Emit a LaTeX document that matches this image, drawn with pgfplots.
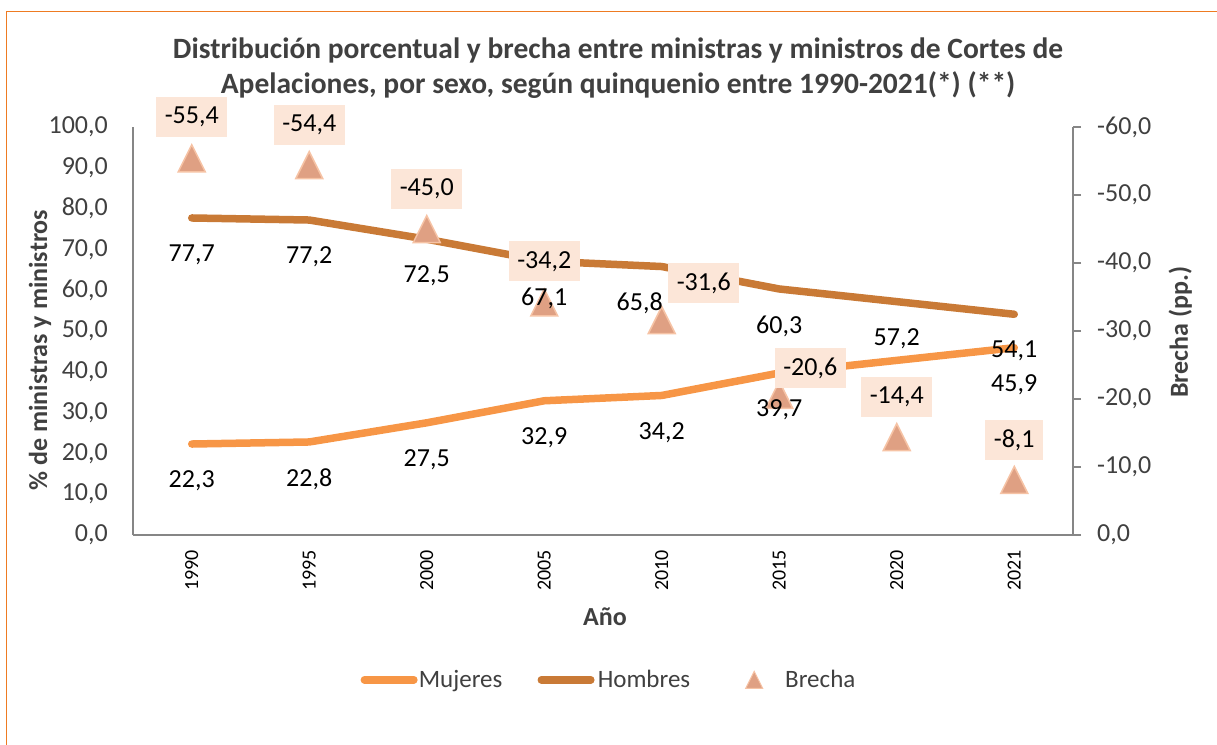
\documentclass[border=0pt]{standalone}
\usepackage{pgfplots}
\pgfplotsset{compat=1.18}
\usepackage{fontspec}
\setmainfont{Carlito}
\definecolor{muj}{HTML}{F79646}
\definecolor{hom}{HTML}{C97A36}
\definecolor{trifill}{HTML}{DFA083}
\definecolor{tridraw}{HTML}{F6C3A5}
\definecolor{boxc}{HTML}{FCE6D8}
\definecolor{axgray}{HTML}{868686}
\definecolor{txtgray}{HTML}{404040}
\definecolor{frameor}{HTML}{EE7B22}
\pgfdeclareplotmark{exceltri}{%
  \pgfpathmoveto{\pgfqpoint{0bp}{13.5bp}}%
  \pgfpathlineto{\pgfqpoint{13.5bp}{-13.5bp}}%
  \pgfpathlineto{\pgfqpoint{-13.5bp}{-13.5bp}}%
  \pgfpathclose
  \pgfusepathqfillstroke}
\newcommand{\numfmt}[1]{\pgfmathprintnumber[fixed,fixed zerofill,precision=1,use comma,assume math mode=true]{#1}}
\pgfplotsset{
  base/.style={
    at={(0,0)}, anchor=south west,
    width=940bp, height=408bp, scale only axis,
    xmin=-0.5, xmax=7.5, clip=false},
  linelabels/.style={
    nodes near coords={\numfmt{\pgfplotspointmeta}},
    point meta=y,
    visualization depends on={\thisrow{dx}\as\dx},
    every node near coord/.append style={anchor=center, text=black, inner sep=0pt,
      font=\fontsize{26bp}{30bp}\selectfont, yshift=-37bp, xshift=\dx bp}},
}
\pgfplotstableread{
x y dx
0 22.3 0
1 22.8 0
2 27.5 0
3 32.9 0
4 34.2 0
5 39.7 0
6 42.8 0
7 45.9 0
}\mujeres
\pgfplotstableread{
x y dx
0 77.7 0
1 77.2 0
2 72.5 0
3 67.1 0
4 65.8 -22
5 60.3 0
6 57.2 0
7 54.1 0
}\hombres
\pgfplotstableread{
x y dx dy
0 -55.4 0 41
1 -54.4 0 40
2 -45.0 0 40
3 -34.2 0 41
4 -31.6 42 37
5 -20.6 31 27
6 -14.4 0 40
7 -8.1 0 40
}\brecha
\begin{document}
\begin{tikzpicture}
\path[use as bounding box] (-133bp,-210bp) rectangle (1084bp,535bp);
\draw[frameor, line width=1.5bp] (-126.5bp,-215bp) -- (-126.5bp,523.5bp) -- (1090bp,523.5bp);
\begin{axis}[base,
  ymin=0, ymax=100,
  xtick={0,...,7},
  xticklabels={1990,1995,2000,2005,2010,2015,2020,2021},
  ytick={0,10,...,100},
  yticklabel={\numfmt{\tick}},
  axis x line*=bottom, axis y line*=left,
  axis line style={-, draw=axgray, line width=1.5bp},
  major tick length=0pt,
  xticklabel style={yshift=-15bp, rotate=90, anchor=east, inner sep=0pt, font=\fontsize{20bp}{24bp}\selectfont, text=black},
  yticklabel style={anchor=east, inner sep=0pt, xshift=-25bp, font=\fontsize{26bp}{30bp}\selectfont, text=txtgray},
  title={Distribución porcentual y brecha entre ministras y ministros de Cortes de\\Apelaciones, por sexo, según quinquenio entre 1990-2021(*) (**)},
  title style={at={(0.516,1.130)}, anchor=center, align=center, inner sep=0pt, font=\bfseries\fontsize{29.5bp}{35bp}\selectfont, text=txtgray},
  xlabel={Año},
  xlabel style={at={(0.502,-0.201)}, anchor=center, inner sep=0pt, font=\bfseries\fontsize{26bp}{30bp}\selectfont, text=txtgray},
  ylabel={\% de ministras y ministros},
  ylabel style={at={(-0.099,0.453)}, anchor=center, inner sep=0pt, font=\bfseries\fontsize{26bp}{30bp}\selectfont, text=txtgray},
]
\addplot[muj, line width=7.5bp, line cap=round, line join=round, mark=none] table[x=x,y=y] {\mujeres};
\addplot[hom, line width=7.5bp, line cap=round, line join=round, mark=none] table[x=x,y=y] {\hombres};
\end{axis}
\begin{axis}[base,
  ymin=-60, ymax=0, y dir=reverse,
  ytick={-60,-50,...,0},
  yticklabel={\numfmt{\tick}},
  axis x line=none, axis y line*=right,
  axis line style={-, draw=axgray, line width=1.5bp},
  tick align=outside, major tick length=8bp,
  ytick style={draw=axgray, line width=1.5bp},
  yticklabel style={anchor=west, inner sep=0pt, xshift=16bp, font=\fontsize{26bp}{30bp}\selectfont, text=txtgray},
  ylabel={Brecha (pp.)},
  ylabel style={at={(1.114,0.4975)}, anchor=center, inner sep=0pt, font=\bfseries\fontsize{26bp}{30bp}\selectfont, text=txtgray},
  legend columns=3,
  legend style={at={(0.5052,-0.355)}, anchor=center, draw=none, fill=none, inner sep=0pt,
    nodes={inner sep=0pt, text=txtgray, font=\fontsize{25bp}{30bp}\selectfont},
    /tikz/column 1/.style={column sep=1bp},
    /tikz/column 2/.style={column sep=35bp},
    /tikz/column 3/.style={column sep=3bp},
    /tikz/column 4/.style={column sep=55bp},
    /tikz/column 5/.style={column sep=22bp}},
  legend cell align=left,
]
\addlegendimage{legend image code/.code={\path (0bp,0bp) (57bp,0bp); \draw[muj, line width=7.5bp, line cap=round] (3.75bp,0bp) -- (53.25bp,0bp);}}
\addlegendentry{Mujeres}
\addlegendimage{legend image code/.code={\path (0bp,0bp) (57bp,0bp); \draw[hom, line width=7.5bp, line cap=round] (3.75bp,0bp) -- (53.25bp,0bp);}}
\addlegendentry{Hombres}
\addplot[only marks, mark=exceltri, mark options={fill=trifill, draw=tridraw, line width=1.5bp},
  legend image code/.code={\fill[trifill, draw=tridraw, line width=1bp] (8.5bp,8.5bp) -- (17bp,-8.5bp) -- (0bp,-8.5bp) -- cycle;}]
  table[x=x,y=y] {\brecha};
\addlegendentry{Brecha}
\end{axis}
\begin{axis}[base, ymin=0, ymax=100, hide axis]
\addplot[draw=none, mark=none, linelabels] table[x=x,y=y] {\mujeres};
\addplot[draw=none, mark=none, linelabels] table[x=x,y=y] {\hombres};
\end{axis}
\begin{axis}[base, ymin=-60, ymax=0, y dir=reverse, hide axis]
\addplot[draw=none, mark=none,
  nodes near coords={\numfmt{\pgfplotspointmeta}},
  point meta=y,
  visualization depends on={\thisrow{dx}\as\dx},
  visualization depends on={\thisrow{dy}\as\dy},
  every node near coord/.append style={anchor=center, text=black, fill=boxc, minimum height=40bp, inner xsep=8.5bp, inner ysep=0pt, font=\fontsize{26bp}{30bp}\selectfont, xshift=\dx bp, yshift=\dy bp}]
  table[x=x,y=y] {\brecha};
\end{axis}
\end{tikzpicture}
\end{document}
